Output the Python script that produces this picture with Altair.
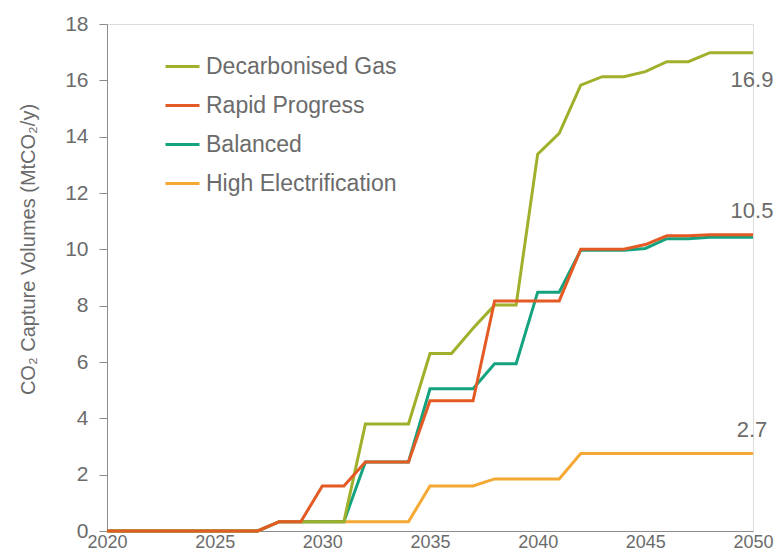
import altair as alt
import pandas as pd

years = list(range(2020, 2051))

series_names = ["Decarbonised Gas", "Rapid Progress", "Balanced", "High Electrification"]
series_colors = ["#a0b02a", "#e45a25", "#15a37f", "#f5a833"]

gas = [0, 0, 0, 0, 0, 0, 0, 0,
       0.33, 0.33, 0.33, 0.33,
       3.8, 3.8, 3.8, 6.3, 6.3, 7.2, 8.02, 8.02,
       13.38, 14.12, 15.83, 16.13, 16.13, 16.31, 16.66, 16.66, 16.98, 16.98, 16.98]
rapid = [0, 0, 0, 0, 0, 0, 0, 0,
         0.33, 0.33, 1.6, 1.6,
         2.45, 2.45, 2.45, 4.62, 4.62, 4.62, 8.17, 8.17,
         8.17, 8.17, 10.0, 10.0, 10.0, 10.17, 10.48, 10.48, 10.52, 10.52, 10.52]
balanced = [0, 0, 0, 0, 0, 0, 0, 0,
            0.33, 0.33, 0.33, 0.33,
            2.45, 2.45, 2.45, 5.05, 5.05, 5.05, 5.94, 5.94,
            8.48, 8.48, 9.97, 9.97, 9.97, 10.03, 10.38, 10.38, 10.43, 10.43, 10.43]
high = [0, 0, 0, 0, 0, 0, 0, 0,
        0.33, 0.33, 0.33, 0.33,
        0.33, 0.33, 0.33, 1.6, 1.6, 1.6, 1.85, 1.85,
        1.85, 1.85, 2.75, 2.75, 2.75, 2.75, 2.75, 2.75, 2.75, 2.75, 2.75]

end_labels_above = ["10.5", "2.7"]
end_labels_above_y = [rapid[-1], high[-1]]
end_labels_below = ["16.9"]
end_labels_below_y = [gas[-1]]

# draw order: High Electrification first, Rapid Progress last (on top)
draw = [("High Electrification", high), ("Balanced", balanced),
        ("Decarbonised Gas", gas), ("Rapid Progress", rapid)]
rows = []
for order, (name, vals) in enumerate(draw):
    for yr, v in zip(years, vals):
        rows.append({"year": yr, "value": v, "series": name, "ord": order})
df = pd.DataFrame(rows)

TXT = "#6b6b6b"
AX = "#8c8c8c"
FONT = "Liberation Sans"

lines = alt.Chart(df).mark_line(strokeWidth=3, strokeJoin="miter").encode(
    x=alt.X("year:Q", scale=alt.Scale(domain=[2020, 2050], nice=False),
            axis=alt.Axis(values=[2020, 2025, 2030, 2035, 2040, 2045, 2050], format="d",
                          ticks=False, grid=False, title=None, labelPadding=2,
                          labelFontSize=18, labelColor=TXT, domainColor=AX,
                          labelFlush=False, labelOverlap=False)),
    y=alt.Y("value:Q", scale=alt.Scale(domain=[0, 18], nice=False),
            axis=alt.Axis(values=list(range(0, 19, 2)), grid=False,
                          title="CO₂ Capture Volumes (MtCO₂/y)",
                          titleFontSize=20, titleFontWeight="normal", titleColor=TXT,
                          titleX=-79, titleY=225, titleBaseline="middle", titleAlign="center",
                          tickSize=8, tickColor=AX, domainColor=AX,
                          labelPadding=11, labelFontSize=21, labelColor=TXT)),
    color=alt.Color("series:N", scale=alt.Scale(domain=series_names, range=series_colors),
                    legend=alt.Legend(title=None, orient="none", legendX=57, legendY=24,
                                      symbolType="stroke", symbolStrokeWidth=3,
                                      symbolSize=1156, labelFontSize=23, labelColor=TXT,
                                      labelOffset=5, rowPadding=8, labelFont=FONT,
                                      labelLimit=0)),
    detail="ord:O",
    order="ord:Q",
)

above_df = pd.DataFrame({"year": [2050] * len(end_labels_above),
                         "value": end_labels_above_y, "label": end_labels_above})
below_df = pd.DataFrame({"year": [2050] * len(end_labels_below),
                         "value": end_labels_below_y, "label": end_labels_below})

txt_above = alt.Chart(above_df).mark_text(fontSize=22, color=TXT, dy=-24, dx=-1, font=FONT,
                                          align="center").encode(
    x="year:Q", y="value:Q", text="label:N")
txt_below = alt.Chart(below_df).mark_text(fontSize=22, color=TXT, dy=27, dx=-1, font=FONT,
                                          align="center").encode(
    x="year:Q", y="value:Q", text="label:N")

chart = alt.layer(lines, txt_above, txt_below).properties(
    width=646, height=507,
    autosize=alt.AutoSizeParams(type="none"),
    padding={"left": 99, "top": 16, "right": 22, "bottom": 20},
    background="white",
).configure_view(stroke=None).configure(font=FONT)

chart.save("out.html", embed_options={"renderer": "svg", "actions": False})
